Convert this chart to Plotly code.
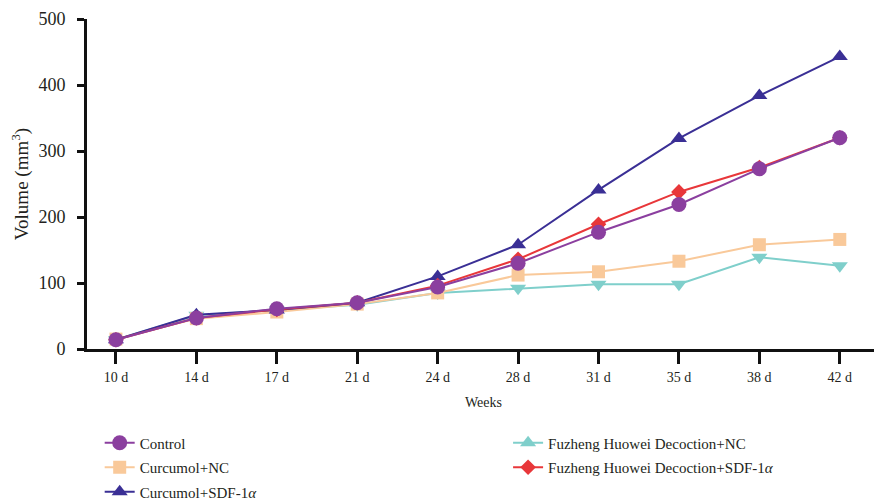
import plotly.graph_objects as go

days = ["10 d", "14 d", "17 d", "21 d", "24 d", "28 d", "31 d", "35 d", "38 d", "42 d"]

control = [14, 47, 61, 70, 94, 130, 177, 219, 273, 320]
curcumol_nc = [15, 46, 56, 68, 85, 112, 117, 133, 158, 166]
curcumol_sdf = [14, 52, 59, 70, 110, 158, 241, 319, 384, 443]
fz_nc = [14, 51, 59, 67, 85, 92, 98, 98, 139, 126]
fz_sdf = [14, 47, 60, 70, 96, 136, 189, 238, 275, 320]

names = ["Control", "Curcumol+NC", "Curcumol+SDF-1<i>α</i>",
         "Fuzheng Huowei Decoction+NC", "Fuzheng Huowei Decoction+SDF-1<i>α</i>"]
colors = ["#8B3F9F", "#F9C99A", "#3A2F95", "#7FCFCB", "#E8373A"]

FONT = "Liberation Serif"

fig = go.Figure()

def add(y, i, symbol, size, legend, rank, show=True):
    fig.add_trace(go.Scatter(
        x=days, y=y, name=names[i], mode="lines+markers",
        line=dict(color=colors[i], width=2),
        marker=dict(symbol=symbol, size=size, color=colors[i]),
        legend=legend, showlegend=show, legendrank=rank, legendgroup=f"g{i}",
    ))

# draw order (bottom to top)
add(fz_nc, 3, "triangle-down", 14, "legend2", 4, show=False)
add(curcumol_nc, 1, "square", 13, "legend", 2)
add(curcumol_sdf, 2, "triangle-up", 14, "legend", 3)
add(fz_sdf, 4, "diamond", 12, "legend2", 5)
add(control, 0, "circle", 15, "legend", 1)

# legend-only entry for Fuzheng Huowei Decoction+NC (legend shows upward triangle)
fig.add_trace(go.Scatter(
    x=[None], y=[None], name=names[3], mode="lines+markers",
    line=dict(color=colors[3], width=2),
    marker=dict(symbol="triangle-up", size=14, color=colors[3]),
    legend="legend2", showlegend=True, legendrank=4, legendgroup="g3",
))

leg_common = dict(
    xanchor="left", yanchor="top", xref="paper", yref="paper",
    orientation="v", font=dict(size=15, family=FONT), bgcolor="rgba(0,0,0,0)",
    traceorder="grouped", tracegroupgap=2,
)

fig.update_layout(
    width=882, height=502,
    margin=dict(l=79, r=10, t=11, b=161, autoexpand=False),
    paper_bgcolor="white", plot_bgcolor="white",
    font=dict(family=FONT, color="#231F20", size=14),
    xaxis=dict(
        type="category", categoryorder="array", categoryarray=days,
        range=[-0.36, 9.50],
        showline=True, linecolor="#111", linewidth=3,
        ticks="outside", ticklen=12, tickwidth=3, tickcolor="#111",
        tickfont=dict(size=14, family=FONT), ticklabelstandoff=1,
        showgrid=False, zeroline=False,
        title=dict(text="Weeks", font=dict(size=14, family=FONT), standoff=14),
    ),
    yaxis=dict(
        range=[0, 500], tickvals=[0, 100, 200, 300, 400, 500],
        showline=True, linecolor="#111", linewidth=3,
        ticks="outside", ticklen=7, tickwidth=3, tickcolor="#111",
        tickfont=dict(size=18, family=FONT), ticklabelstandoff=8,
        showgrid=False, zeroline=False,
        title=dict(text="Volume (mm<sup>3</sup>)", font=dict(size=19, family=FONT), standoff=9),
    ),
    legend=dict(x=0.016, y=-0.235, **leg_common),
    legend2=dict(x=0.531, y=-0.235, **leg_common),
)

fig.write_html("out.html")
